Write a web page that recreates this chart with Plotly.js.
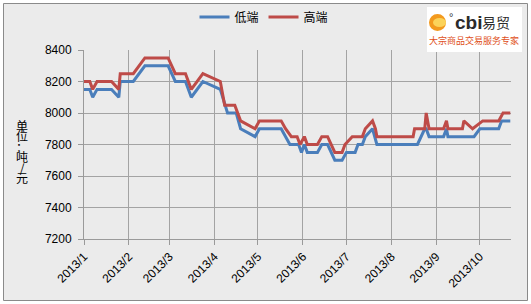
<!DOCTYPE html>
<html><head><meta charset="utf-8">
<script src="https://cdn.plot.ly/plotly-3.0.1.min.js"></script>
<style>html,body{margin:0;padding:0;background:#fff}#chart{width:531px;height:304px}</style>
</head><body><div id="chart"></div>
<script>
// ---- data ----
const highDates = ['2013-01-01','2013-01-05','2013-01-07','2013-01-10','2013-01-20','2013-01-25','2013-01-26','2013-02-04','2013-02-12','2013-02-28',
  '2013-03-05','2013-03-12','2013-03-16','2013-03-24','2013-04-05','2013-04-08','2013-04-15','2013-04-19','2013-04-29','2013-05-02',
  '2013-05-17','2013-05-20','2013-05-24','2013-05-28','2013-05-30','2013-06-02','2013-06-04','2013-06-11','2013-06-14','2013-06-18',
  '2013-06-23','2013-06-28','2013-06-30','2013-07-05','2013-07-12','2013-07-14','2013-07-19','2013-07-21','2013-07-22','2013-08-16',
  '2013-08-17','2013-08-24','2013-08-25','2013-08-27','2013-09-06','2013-09-08','2013-09-09','2013-09-19','2013-09-20','2013-09-26',
  '2013-10-03','2013-10-14','2013-10-17','2013-10-22'];
const highValues = [8200,8200,8150,8200,8200,8150,8250,8250,8350,8350,
  8250,8250,8150,8250,8200,8050,8050,7950,7900,7950,
  7950,7900,7850,7850,7800,7850,7800,7800,7850,7850,
  7750,7750,7800,7850,7850,7900,7950,7900,7850,7850,
  7900,7900,8000,7900,7900,7950,7900,7900,7950,7900,
  7950,7950,8000,8000];
const lowDates = ['2013-01-01','2013-01-05','2013-01-07','2013-01-10','2013-01-20','2013-01-25','2013-01-26','2013-02-04','2013-02-12','2013-02-28',
  '2013-03-05','2013-03-12','2013-03-16','2013-03-24','2013-04-05','2013-04-10','2013-04-16','2013-04-19','2013-04-29','2013-05-02',
  '2013-05-17','2013-05-20','2013-05-23','2013-05-29','2013-05-31','2013-06-02','2013-06-04','2013-06-11','2013-06-14','2013-06-18',
  '2013-06-23','2013-06-28','2013-07-01','2013-07-07','2013-07-09','2013-07-12','2013-07-14','2013-07-19','2013-07-22','2013-08-19',
  '2013-08-24','2013-08-25','2013-08-27','2013-09-06','2013-09-08','2013-09-09','2013-09-27','2013-10-01','2013-10-14','2013-10-16',
  '2013-10-22'];
const lowValues = [8150,8150,8100,8150,8150,8100,8200,8200,8300,8300,
  8200,8200,8100,8200,8150,8000,8000,7900,7850,7900,
  7900,7850,7800,7800,7750,7800,7750,7750,7800,7800,
  7700,7700,7750,7750,7800,7800,7850,7900,7800,7800,
  7900,7900,7850,7850,7900,7850,7850,7900,7900,7950,
  7950];
const seriesNames = ['低端','高端'];
const yTickVals = [7200,7400,7600,7800,8000,8200,8400];
const xTickVals = ['2013-01-01','2013-02-01','2013-03-01','2013-04-01','2013-05-01','2013-06-01','2013-07-01','2013-08-01','2013-09-01','2013-10-01'];
const xTickText = ['2013/1','2013/2','2013/3','2013/4','2013/5','2013/6','2013/7','2013/8','2013/9','2013/10'];
const yTitleChars = ['单','位','：','吨','/','元'];

// ---- layout helpers (pixel -> paper) ----
const L = 84, R = 20, T = 50, B = 65, W = 531, H = 304;
const pw = W - L - R, ph = H - T - B;
const px = x => (x - L) / pw;
const py = y => (H - B - y) / ph;

const cjk = '"Noto Sans CJK SC", "Noto Sans", sans-serif';
const lat = '"Liberation Sans", Arial, sans-serif';

const traces = [
  {x: lowDates, y: lowValues, name: seriesNames[0], type: 'scatter', mode: 'lines',
   line: {color: '#4a7ebb', width: 3}},
  {x: highDates, y: highValues, name: seriesNames[1], type: 'scatter', mode: 'lines',
   line: {color: '#be4b48', width: 3}}
];

const yTitleText = yTitleChars.map(c => '<span style="font-size:12px">' + c + '</span>').join('<br>');
const annotations = [{
  text: yTitleText, xref: 'paper', yref: 'paper', x: px(22), y: py(151.5),
  xanchor: 'center', yanchor: 'middle', showarrow: false, align: 'center',
  font: {family: cjk, size: 8, color: '#000'}
}];
// logo texts
annotations.push({text: '°', xref: 'paper', yref: 'paper', x: px(451), y: py(17), showarrow: false,
  xanchor: 'center', yanchor: 'middle', font: {family: lat, size: 11, color: '#333'}});
annotations.push({text: '<b>cbi</b>', xref: 'paper', yref: 'paper', x: px(468), y: py(22), showarrow: false,
  xanchor: 'center', yanchor: 'middle', font: {family: lat, size: 19, color: '#2b2b2b'}});
annotations.push({text: '易贸', xref: 'paper', yref: 'paper', x: px(496), y: py(22), showarrow: false,
  xanchor: 'center', yanchor: 'middle', font: {family: cjk, size: 14, color: '#2b2b2b'}});
annotations.push({text: '大宗商品交易服务专家', xref: 'paper', yref: 'paper', x: px(474), y: py(41), showarrow: false,
  xanchor: 'center', yanchor: 'middle', font: {family: cjk, size: 9, color: '#e0501a'}});

const shapes = [
  {type: 'rect', xref: 'paper', yref: 'paper', layer: 'below',
   x0: px(3.5), x1: px(527.5), y0: py(300.5), y1: py(3.5),
   fillcolor: '#ebebeb', line: {color: '#8a8a8a', width: 1}},
  {type: 'rect', xref: 'paper', yref: 'paper', layer: 'above',
   x0: px(427), x1: px(522), y0: py(52), y1: py(7),
   fillcolor: '#ffffff', line: {width: 0}},
  {type: 'circle', xref: 'paper', yref: 'paper', layer: 'above',
   x0: px(429), x1: px(446), y0: py(31), y1: py(14),
   fillcolor: '#f39a1e', line: {width: 0}},
  {type: 'circle', xref: 'paper', yref: 'paper', layer: 'above',
   x0: px(433), x1: px(446), y0: py(27), y1: py(18),
   fillcolor: '#fbd35a', line: {width: 0}}
];

const layout = {
  width: W, height: H,
  margin: {l: L, r: R, t: T, b: B, pad: 0, autoexpand: false},
  paper_bgcolor: '#ffffff',
  plot_bgcolor: 'rgba(0,0,0,0)',
  showlegend: true,
  legend: {orientation: 'h', x: px(264), xanchor: 'center', y: py(17), yanchor: 'middle',
    font: {family: cjk, size: 12, color: '#000'}, bgcolor: 'rgba(0,0,0,0)', itemwidth: 30, tracegroupgap: 0},
  xaxis: {
    type: 'date', range: ['2013-01-01', '2013-10-22 12:00'],
    tickmode: 'array', tickvals: xTickVals, ticktext: xTickText, tickangle: -45,
    ticks: 'outside', ticklen: 5, tickcolor: '#9a9a9a', tickwidth: 1,
    showgrid: true, gridcolor: '#a3a3a3', gridwidth: 1,
    showline: true, linecolor: '#9a9a9a', linewidth: 1, automargin: false,
    zeroline: false, tickfont: {family: lat, size: 12, color: '#000'}
  },
  yaxis: {
    range: [7200, 8400], tickmode: 'array', tickvals: yTickVals,
    ticks: 'outside', ticklen: 5, tickcolor: '#9a9a9a', tickwidth: 1,
    showgrid: true, gridcolor: '#a3a3a3', gridwidth: 1,
    showline: true, linecolor: '#9a9a9a', linewidth: 1, automargin: false,
    zeroline: false, ticklabelstandoff: 4,
    tickfont: {family: lat, size: 12, color: '#000'}
  },
  annotations: annotations,
  shapes: shapes
};

Plotly.newPlot('chart', traces, layout, {staticPlot: true, displayModeBar: false});
</script>
</body></html>
